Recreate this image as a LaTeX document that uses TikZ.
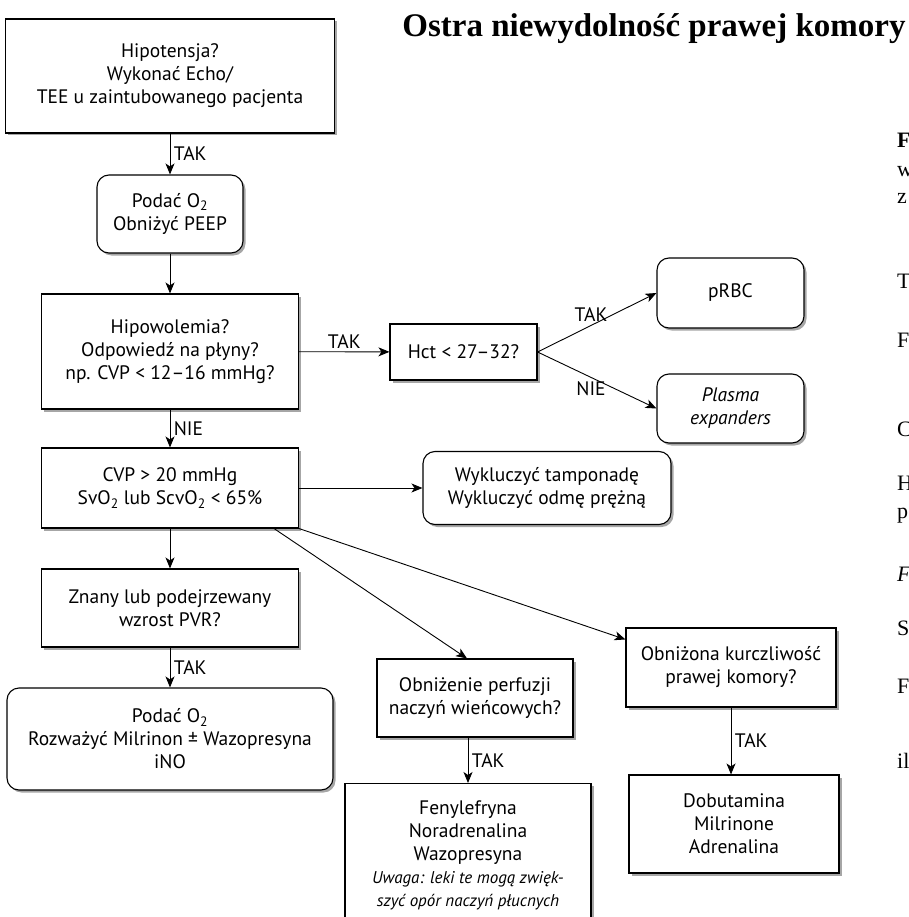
\documentclass[tikz,border=0pt]{standalone}
\usepackage{fontspec}
\setmainfont{PT Sans}
\newfontfamily\titlefont{Liberation Serif}
\usetikzlibrary{arrows.meta,shadows}
\newcommand{\uwaga}[1]{{\fontsize{17}{22}\selectfont\itshape #1}}

\begin{document}
\begin{tikzpicture}[x=1pt,y=-1pt,
    font=\fontsize{19.5}{23}\selectfont,
    box/.style={draw, line width=1.1pt, fill=white, align=center, inner sep=2pt,
        drop shadow={shadow xshift=2.5pt, shadow yshift=-2.5pt, fill=black, opacity=.35}},
    rbox/.style={box, rounded corners=12pt},
    arr/.style={-{Stealth[length=11pt,width=9pt,inset=3pt]}, line width=.9pt},
    frag/.style={font=\titlefont\fontsize{22}{22}\selectfont, anchor=base west, inner sep=0pt}]
  \useasboundingbox (0,0) rectangle (908,917);

  \node[anchor=base, inner sep=0pt, font=\titlefont\bfseries\fontsize{33}{33}\selectfont] (tytul) at (654,37) {Ostra niewydolność prawej komory};

  % lewa kolumna
  \node[box, minimum width=329pt, minimum height=114pt] (hipo) at (170,76) {Hipotensja?\\Wykonać Echo/\\TEE u zaintubowanego pacjenta};
  \node[rbox, minimum width=146pt, minimum height=78pt] (tlen) at (170,214) {Podać O\textsubscript{2}\\Obniżyć PEEP};
  \node[box, minimum width=257pt, minimum height=115pt] (hipow) at (170,351.5) {Hipowolemia?\\Odpowiedź na płyny?\\np. CVP < 12--16 mmHg?};
  \node[box, minimum width=257pt, minimum height=80pt] (cvp) at (170,488) {CVP > 20 mmHg\\SvO\textsubscript{2} lub ScvO\textsubscript{2} < 65\%};
  \node[box, minimum width=257pt, minimum height=78pt] (pvr) at (170,608) {Znany lub podejrzewany\\wzrost PVR?};
  \node[rbox, minimum width=326pt, minimum height=102pt] (tlen2) at (170,739) {Podać O\textsubscript{2}\\Rozważyć Milrinon ± Wazopresyna\\iNO};

  % hematokryt
  \node[box, minimum width=147pt, minimum height=56pt] (hct) at (463.5,352) {Hct < 27--32?};
  \node[rbox, minimum width=147pt, minimum height=70pt] (prbc) at (730.5,293) {pRBC};
  \node[rbox, minimum width=147pt, minimum height=69pt] (plasma) at (730.5,408.5) {\textit{Plasma}\\\textit{expanders}};

  % prawa strona
  \node[rbox, minimum width=248pt, minimum height=73pt] (wyk) at (547,488) {Wykluczyć tamponadę\\Wykluczyć odmę prężną};
  \node[box, minimum width=196pt, minimum height=78pt] (perf) at (475,698) {Obniżenie perfuzji\\naczyń wieńcowych?};
  \node[box, minimum width=210pt, minimum height=79pt] (kurcz) at (731,667.5) {Obniżona kurczliwość\\prawej komory?};
  \node[box, minimum width=246pt, anchor=north, inner ysep=17pt] (leki) at (468,783) {Fenylefryna\\Noradrenalina\\Wazopresyna\\\uwaga{Uwaga: leki te mogą zwięk-}\\\uwaga{szyć opór naczyń płucnych}};
  \node[box, minimum width=210pt, minimum height=98pt] (dob) at (734,824) {Dobutamina\\Milrinone\\Adrenalina};

  \draw[arr] (hipo) -- node[right]{TAK} (tlen);
  \draw[arr] (tlen) -- (hipow);
  \draw[arr] (hipow) -- node[above]{TAK} (hct);
  \draw[arr] (hct.east) -- node[above, pos=.45]{TAK} (prbc.west);
  \draw[arr] (hct.east) -- node[below, pos=.45]{NIE} (plasma.west);
  \draw[arr] (hipow) -- node[right]{NIE} (cvp);
  \draw[arr] (cvp.east) -- (wyk.west);
  \draw[arr] (cvp) -- (pvr);
  \draw[arr] (pvr) -- node[right]{TAK} (tlen2);
  \draw[arr] ([xshift=-25pt]cvp.south east) -- ([xshift=-8pt]perf.north);
  \draw[arr] (cvp.south east) -- ([yshift=-12pt]kurcz.north west);
  \draw[arr] (perf.south -| leki.north) -- node[right]{TAK} (leki.north);
  \draw[arr] (kurcz.south) -- node[right]{TAK} (kurcz.south |- dob.north);

  % ucięty tekst przy prawej krawędzi
  \node[frag, font=\titlefont\bfseries\fontsize{22}{22}\selectfont] (frag-148) at (897,148) {F};
  \node[frag, font=\titlefont\itshape\fontsize{22}{22}\selectfont] (frag-581) at (897,581) {F};
  \foreach \txt/\yy in {w/177, z/204, T/288, F/347, C/436, H/490, p/518, S/635, F/693, il/768}
    \node[frag] (frag-\yy) at (897,\yy) {\txt};
\end{tikzpicture}
\end{document}
